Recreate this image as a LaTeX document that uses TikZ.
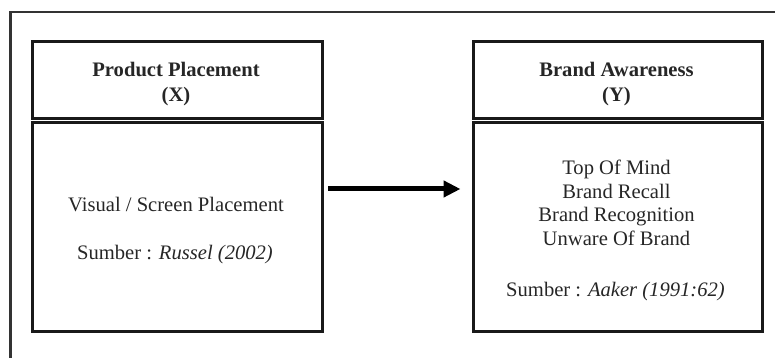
\documentclass[tikz,border=0pt]{standalone}
\usepackage{fontspec}
\setmainfont{Liberation Serif}
\usetikzlibrary{arrows.meta,calc}
\begin{document}
\begin{tikzpicture}[x=1pt,y=1pt,
  box/.style={draw=black!90, line width=3pt, rectangle, inner sep=0pt},
  txt/.style={anchor=base, inner sep=0pt, text=black!85, font=\fontsize{20.6}{24}\selectfont},
  btxt/.style={txt, font=\fontsize{20.6}{24}\selectfont\bfseries},
  frame/.style={draw=black!80, line width=2.5pt},
  conn/.style={draw=black, line width=5pt, -{Triangle[length=17pt,width=16pt]}}]
\useasboundingbox (0,0) rectangle (775,358);
% outer frame
\draw[frame] (10.5,0) -- (10.5,346) -- (776,346);
% boxes
\node[box, minimum width=290pt, minimum height=77pt] (xh) at (177,277.5) {};
\node[box, minimum width=290pt, minimum height=209pt] (xb) at (177,130.5) {};
\node[box, minimum width=289pt, minimum height=77pt] (yh) at (617.5,277.5) {};
\node[box, minimum width=289pt, minimum height=209pt] (yb) at (617.5,130.5) {};
% header texts
\node[btxt] (xt1) at (176,281) {Product Placement};
\node[btxt] (xt2) at (176,256) {(X)};
\node[btxt] (yt1) at (616.5,281) {Brand Awareness};
\node[btxt] (yt2) at (616.5,256) {(Y)};
% body texts
\node[txt] (xl1) at (176,146) {Visual / Screen Placement};
\node[txt] (xl2) at (175,98) {Sumber : \textit{Russel (2002)}};
\node[txt] (yl1) at (616.5,183) {Top Of Mind};
\node[txt] (yl2) at (616.5,159) {Brand Recall};
\node[txt] (yl3) at (616.5,136) {Brand Recognition};
\node[txt] (yl4) at (616.5,112) {Unware Of Brand};
\node[txt] (yl5) at (615.5,61) {Sumber : \textit{Aaker (1991:62)}};
% connector
\coordinate (a1) at ($(xb.east)+(4.5,38.5)$);
\coordinate (a2) at ($(yb.west)+(-11,38.5)$);
\draw[conn] (a1) -- (a2);
\end{tikzpicture}
\end{document}
